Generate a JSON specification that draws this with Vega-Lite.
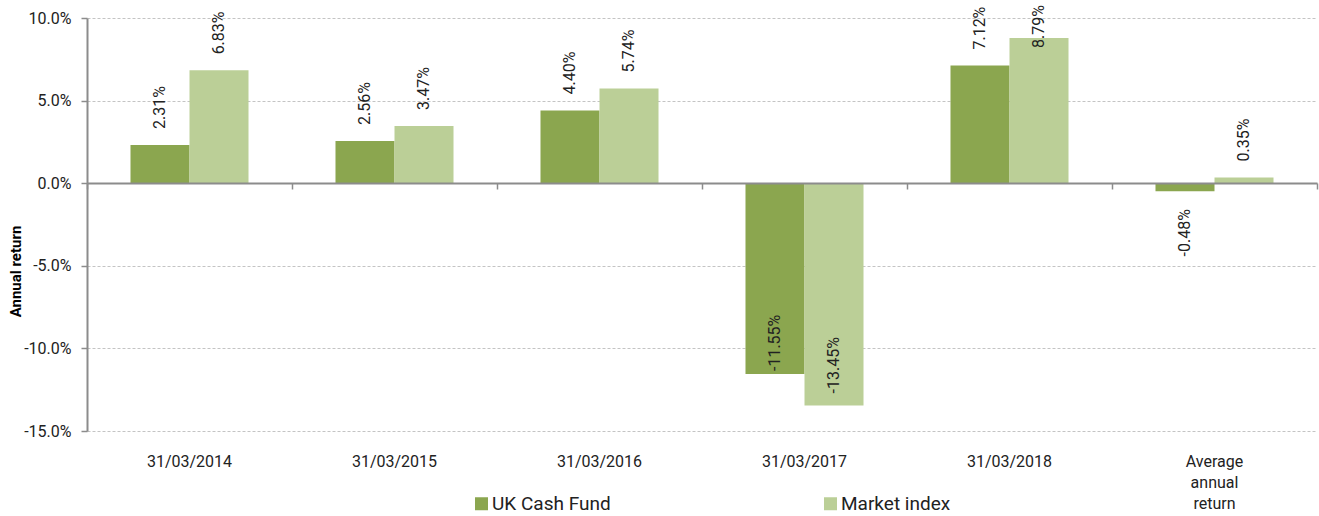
{
  "$schema": "https://vega.github.io/schema/vega-lite/v6.json",
  "width": 1230,
  "height": 413,
  "autosize": "none",
  "padding": {"left": 87, "top": 18, "right": 2, "bottom": 85},
  "background": "white",
  "config": {
    "font": "Roboto",
    "view": {"stroke": null},
    "locale": {"number": {"decimal": ".", "thousands": ",", "grouping": [3], "currency": ["$", ""], "minus": "-"}},
    "text": {"font": "Roboto", "fontSize": 16, "color": "#222222", "angle": 270, "baseline": "middle"},
    "axis": {"titleFont": "Roboto", "labelFont": "Roboto"}
  },
  "data": {
    "values": [
      {"period": "31/03/2014", "series": "UK Cash Fund", "value": 0.0231},
      {"period": "31/03/2014", "series": "Market index", "value": 0.0683},
      {"period": "31/03/2015", "series": "UK Cash Fund", "value": 0.0256},
      {"period": "31/03/2015", "series": "Market index", "value": 0.0347},
      {"period": "31/03/2016", "series": "UK Cash Fund", "value": 0.0440},
      {"period": "31/03/2016", "series": "Market index", "value": 0.0574},
      {"period": "31/03/2017", "series": "UK Cash Fund", "value": -0.1155},
      {"period": "31/03/2017", "series": "Market index", "value": -0.1345},
      {"period": "31/03/2018", "series": "UK Cash Fund", "value": 0.0712},
      {"period": "31/03/2018", "series": "Market index", "value": 0.0879},
      {"period": "Average annual return", "series": "UK Cash Fund", "value": -0.0048},
      {"period": "Average annual return", "series": "Market index", "value": 0.0035}
    ]
  },
  "layer": [
    {
      "mark": {"type": "bar"},
      "encoding": {
        "x": {
          "field": "period", "type": "nominal", "sort": null,
          "scale": {"paddingInner": 0, "paddingOuter": 0},
          "axis": {
            "orient": "bottom", "offset": -248, "labels": false, "title": null,
            "domainColor": "#8c8c8c", "domainWidth": 2,
            "tickBand": "extent", "tickSize": 6, "tickColor": "#8c8c8c", "tickWidth": 1.5,
            "grid": false, "zindex": 2
          }
        },
        "xOffset": {
          "field": "series", "type": "nominal", "sort": null,
          "scale": {"domain": ["UK Cash Fund", "Market index"], "paddingOuter": 0.737, "paddingInner": 0}
        },
        "y": {
          "field": "value", "type": "quantitative",
          "scale": {"domain": [-0.15, 0.1], "nice": false, "zero": false},
          "axis": {
            "values": [-0.15, -0.1, -0.05, 0, 0.05, 0.1],
            "format": ".1%",
            "title": "Annual return",
            "titleFontSize": 15, "titleFontWeight": "bold", "titleColor": "#000000",
            "titleX": -64, "titleY": 253, "titleAngle": 270, "titleAlign": "center", "titleBaseline": "bottom",
            "labelFontSize": 16, "labelColor": "#222222", "labelPadding": 10,
            "domainColor": "#8c8c8c", "domainWidth": 2,
            "tickColor": "#8c8c8c", "tickSize": 6, "tickWidth": 1.5,
            "grid": true, "gridColor": "#c4c4c4", "gridDash": [3, 2], "gridWidth": 1
          }
        },
        "color": {
          "field": "series", "type": "nominal", "sort": null,
          "scale": {"domain": ["UK Cash Fund", "Market index"], "range": ["#8ba64f", "#bbcf97"]},
          "legend": {
            "orient": "none", "legendX": 385, "legendY": 476, "direction": "horizontal",
            "title": null, "symbolType": "square", "symbolSize": 169, "symbolStrokeWidth": 0,
            "labelFontSize": 19, "labelColor": "#222222", "columnPadding": 210, "labelOffset": 1
          }
        }
      }
    },
    {
      "transform": [{"filter": "datum.value >= 0 && datum.value < 0.08"}],
      "mark": {"type": "text", "align": "left", "dx": 16},
      "encoding": {
        "x": {
          "field": "period", "type": "nominal", "sort": null,
          "axis": {
            "orient": "bottom", "domain": false, "ticks": false, "grid": false, "title": null,
            "labelAngle": 0, "labelPadding": 22, "labelFontSize": 16, "labelColor": "#222222",
            "labelBaseline": "top", "labelLineHeight": 21,
            "labelExpr": "datum.label == 'Average annual return' ? ['Average', 'annual', 'return'] : datum.label"
          }
        },
        "xOffset": {"field": "series", "type": "nominal", "sort": null},
        "y": {"field": "value", "type": "quantitative"},
        "text": {"field": "value", "type": "quantitative", "format": ".2%"}
      }
    },
    {
      "transform": [{"filter": "datum.value >= 0.08"}],
      "mark": {"type": "text", "align": "right", "dx": 33},
      "encoding": {
        "x": {"field": "period", "type": "nominal", "sort": null, "axis": null},
        "xOffset": {"field": "series", "type": "nominal", "sort": null},
        "y": {"field": "value", "type": "quantitative"},
        "text": {"field": "value", "type": "quantitative", "format": ".2%"}
      }
    },
    {
      "transform": [{"filter": "datum.value < 0 && datum.value > -0.05"}],
      "mark": {"type": "text", "align": "right", "dx": -18},
      "encoding": {
        "x": {"field": "period", "type": "nominal", "sort": null, "axis": null},
        "xOffset": {"field": "series", "type": "nominal", "sort": null},
        "y": {"field": "value", "type": "quantitative"},
        "text": {"field": "value", "type": "quantitative", "format": ".2%"}
      }
    },
    {
      "transform": [{"filter": "datum.value <= -0.05 && datum.series == 'UK Cash Fund'"}],
      "mark": {"type": "text", "align": "left", "dx": 3},
      "encoding": {
        "x": {"field": "period", "type": "nominal", "sort": null, "axis": null},
        "xOffset": {"field": "series", "type": "nominal", "sort": null},
        "y": {"field": "value", "type": "quantitative"},
        "text": {"field": "value", "type": "quantitative", "format": ".2%"}
      }
    },
    {
      "transform": [{"filter": "datum.value <= -0.05 && datum.series == 'Market index'"}],
      "mark": {"type": "text", "align": "left", "dx": 12},
      "encoding": {
        "x": {"field": "period", "type": "nominal", "sort": null, "axis": null},
        "xOffset": {"field": "series", "type": "nominal", "sort": null},
        "y": {"field": "value", "type": "quantitative"},
        "text": {"field": "value", "type": "quantitative", "format": ".2%"}
      }
    }
  ],
  "resolve": {"axis": {"x": "independent"}}
}
